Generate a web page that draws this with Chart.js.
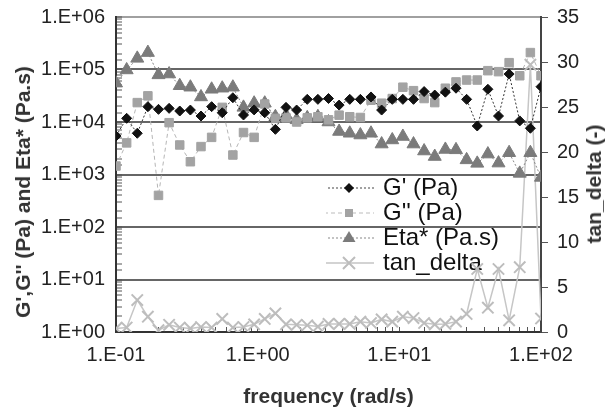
<!DOCTYPE html>
<html><head><meta charset="utf-8">
<script src="https://cdn.jsdelivr.net/npm/chart.js@4.4.1/dist/chart.umd.min.js"></script>
<style>
html,body{margin:0;padding:0;background:#fff;}
#wrap{position:relative;width:606px;height:411px;overflow:hidden;background:#fff;}
.vt{position:absolute;transform:translate(-50%,-50%) rotate(-90deg);font:bold 21px "Liberation Sans",Arial,sans-serif;color:#333;white-space:nowrap;}
</style></head><body>
<div id="wrap"><canvas id="c" width="606" height="411"></canvas>
<div class="vt" id="ltitle" style="left:23px;top:192px;"></div>
<div class="vt" id="rtitle" style="left:594px;top:184px;"></div>
</div>
<script>
const frequency = [0.1, 0.1189, 0.1413, 0.1679, 0.1995, 0.2371, 0.2818, 0.335, 0.3981, 0.4732, 0.5623, 0.6683, 0.7943, 0.9441, 1.122, 1.334, 1.585, 1.884, 2.239, 2.661, 3.162, 3.758, 4.467, 5.309, 6.31, 7.499, 8.913, 10.59, 12.59, 14.96, 17.78, 21.13, 25.12, 29.85, 35.48, 42.17, 50.12, 59.57, 70.79, 84.14, 100];
const gPrime = [5400, 11750, 6100, 19600, 17400, 18200, 16200, 16900, 13000, 19600, 15000, 29000, 13600, 17000, 15000, 7250, 19000, 16900, 27000, 27000, 28000, 21000, 27000, 27000, 30000, 16900, 27000, 27000, 27000, 38000, 32600, 37000, 44000, 27000, 8400, 42000, 13000, 82000, 10500, 7600, 47000];
const gDoublePrime = [1450, 4000, 23400, 31500, 400, 9700, 3650, 1750, 3400, 5100, 19000, 2350, 6300, 5100, 22000, 11700, 12000, 10000, 12000, 12600, 11000, 13500, 12600, 12200, 26000, 22800, 28000, 46000, 39500, 28000, 23400, 44000, 58000, 63000, 63000, 95000, 91000, 135000, 76000, 210000, 76000];
const etaStar = [55000, 98000, 163000, 210000, 79000, 82000, 49000, 46000, 30000, 42000, 44000, 46000, 19000, 22800, 22800, 12600, 13500, 11000, 12000, 12600, 10000, 6600, 6100, 5650, 6100, 3800, 4550, 5300, 3800, 2800, 2200, 3000, 2950, 1900, 1630, 2450, 1650, 2600, 1050, 2600, 880];
const tanDelta = [0.4, 0.5, 3.55, 1.7, 0.2, 0.8, 0.5, 0.4, 0.55, 0.5, 1.45, 0.5, 0.55, 0.85, 1.45, 2.07, 0.85, 0.8, 0.75, 0.6, 0.9, 0.9, 0.9, 1.15, 1.0, 1.4, 1.15, 1.7, 1.55, 1.0, 0.85, 0.9, 1.15, 2.0, 7.0, 2.7, 7.0, 1.3, 7.2, 29.7, 1.5];

const seriesNames = ["G' (Pa)", "G'' (Pa)", "Eta* (Pa.s)", "tan_delta"];
const xTickValues = [0.1, 1, 10, 100];
const xTickLabels = ['1.E-01', '1.E+00', '1.E+01', '1.E+02'];
const yTickValues = [1, 10, 100, 1000, 10000, 100000, 1000000];
const yTickLabels = ['1.E+00', '1.E+01', '1.E+02', '1.E+03', '1.E+04', '1.E+05', '1.E+06'];
const xTitle = 'frequency (rad/s)';
const yTitle = "G',G'' (Pa) and Eta* (Pa.s)";
const y2Title = 'tan_delta (-)';

document.getElementById('ltitle').textContent = yTitle;
document.getElementById('rtitle').textContent = y2Title;

const FONT = '"Liberation Sans", Arial, sans-serif';

function isDecade(v) { const l = Math.log10(v); return Math.abs(l - Math.round(l)) < 1e-6; }
function lookupLabel(v, vals, labs) {
  for (let i = 0; i < vals.length; i++) {
    if (Math.abs(Math.log10(v) - Math.log10(vals[i])) < 1e-6) return labs[i];
  }
  return '';
}
function pts(ys) { return frequency.map((f, i) => ({x: f, y: ys[i]})); }
function noPad(s) { s.paddingTop = 0; s.paddingBottom = 0; s.paddingLeft = 0; s.paddingRight = 0; }

function makeSample(kind) {
  const c = document.createElement('canvas');
  c.width = 50; c.height = 20;
  const g = c.getContext('2d');
  const cx = 25, cy = 10;
  g.lineWidth = 1;
  if (kind === 0) { g.strokeStyle = '#444'; g.setLineDash([2, 2]); }
  if (kind === 1) { g.strokeStyle = '#bbb'; g.setLineDash([4, 3]); }
  if (kind === 2) { g.strokeStyle = '#888'; g.setLineDash([2, 2]); }
  if (kind === 3) { g.strokeStyle = '#c4c4c4'; g.lineWidth = 1.5; }
  g.beginPath(); g.moveTo(0, cy); g.lineTo(50, cy); g.stroke();
  g.setLineDash([]);
  g.beginPath();
  if (kind === 0) {
    g.fillStyle = '#111';
    g.moveTo(cx, cy - 5); g.lineTo(cx + 5, cy); g.lineTo(cx, cy + 5); g.lineTo(cx - 5, cy); g.closePath(); g.fill();
  } else if (kind === 1) {
    g.fillStyle = '#a3a3a3'; g.fillRect(cx - 4, cy - 4, 8, 8);
  } else if (kind === 2) {
    g.fillStyle = '#7b7b7b';
    g.moveTo(cx, cy - 7); g.lineTo(cx + 6.5, cy + 4); g.lineTo(cx - 6.5, cy + 4); g.closePath(); g.fill();
  } else {
    g.strokeStyle = '#bdbdbd'; g.lineWidth = 2;
    g.moveTo(cx - 6, cy - 6); g.lineTo(cx + 6, cy + 6); g.moveTo(cx + 6, cy - 6); g.lineTo(cx - 6, cy + 6); g.stroke();
  }
  return c;
}
const samples = [0, 1, 2, 3].map(makeSample);

const legendPlace = {
  id: 'legendPlace',
  afterLayout(chart) {
    const l = chart.legend;
    if (!l) return;
    const w = l.width, h = l.height;
    l.left = 326; l.top = 175; l.right = l.left + w; l.bottom = l.top + h;
  }
};

new Chart(document.getElementById('c'), {
  type: 'line',
  data: {
    datasets: [
      { label: seriesNames[0], data: pts(gPrime), yAxisID: 'y',
        borderColor: '#333', borderWidth: 1, borderDash: [2, 2],
        pointStyle: 'rectRot', pointRadius: 5, pointBackgroundColor: '#111', pointBorderColor: '#111', pointBorderWidth: 1 },
      { label: seriesNames[1], data: pts(gDoublePrime), yAxisID: 'y',
        borderColor: '#b5b5b5', borderWidth: 1, borderDash: [4, 3],
        pointStyle: 'rect', pointRadius: 6, pointBackgroundColor: '#a3a3a3', pointBorderColor: '#a3a3a3', pointBorderWidth: 1 },
      { label: seriesNames[2], data: pts(etaStar), yAxisID: 'y',
        borderColor: '#888', borderWidth: 1, borderDash: [2, 2],
        pointStyle: 'triangle', pointRadius: 7.5, pointBackgroundColor: '#7b7b7b', pointBorderColor: '#7b7b7b', pointBorderWidth: 1 },
      { label: seriesNames[3], data: pts(tanDelta), yAxisID: 'y2',
        borderColor: '#c6c6c6', borderWidth: 1.5,
        pointStyle: 'crossRot', pointRadius: 8, pointBorderColor: '#bdbdbd', pointBackgroundColor: '#bdbdbd', pointBorderWidth: 2 }
    ]
  },
  options: {
    responsive: false,
    animation: false,
    devicePixelRatio: 1,
    layout: { padding: { left: 0, right: 0, top: 17, bottom: 0 } },
    plugins: {
      tooltip: { enabled: false },
      legend: {
        position: 'chartArea', align: 'start',
        labels: {
          usePointStyle: true, pointStyleWidth: 44, boxHeight: 20, padding: 1,
          color: '#111', font: { family: FONT, size: 24 },
          generateLabels(chart) {
            const items = Chart.defaults.plugins.legend.labels.generateLabels(chart);
            items.forEach((it, i) => { it.pointStyle = samples[i]; it.rotation = 0; });
            return items;
          }
        }
      }
    },
    scales: {
      x: {
        type: 'logarithmic', position: 'bottom', min: 0.1, max: 100,
        afterFit(s) { s.height = 79; noPad(s); },
        grid: { drawOnChartArea: false, drawTicks: true, tickLength: -5, tickColor: '#555', tickWidth: 1 },
        border: { color: '#333', width: 2 },
        ticks: { autoSkip: false, align: 'center', maxRotation: 0, minRotation: 0, padding: 16, color: '#222',
          font: { family: FONT, size: 20 },
          callback(v) { return lookupLabel(v, xTickValues, xTickLabels); } },
        title: { display: true, text: xTitle, color: '#333', font: { family: FONT, size: 21, weight: 'bold' }, padding: { top: 0, bottom: 1 } }
      },
      y: {
        type: 'logarithmic', position: 'left', min: 1, max: 1000000,
        afterFit(s) { s.width = 116; noPad(s); },
        grid: {
          color(ctx) { const v = ctx.tick ? ctx.tick.value : 1; if (!isDecade(v)) return 'rgba(0,0,0,0)'; return v >= 1000000 ? '#a0a0a0' : '#666'; },
          lineWidth: 2, drawTicks: true, tickLength: -6, tickColor: '#555', tickWidth: 1
        },
        border: { color: '#333', width: 2 },
        ticks: { autoSkip: false, padding: 17, color: '#222', font: { family: FONT, size: 20 },
          callback(v) { return lookupLabel(v, yTickValues, yTickLabels); } },
        title: { display: false }
      },
      y2: {
        type: 'linear', position: 'right', min: 0, max: 35,
        afterFit(s) { s.width = 65; noPad(s); },
        grid: { drawOnChartArea: false, drawTicks: true, tickLength: 7, tickColor: '#555', tickWidth: 1 },
        border: { color: '#444', width: 2 },
        ticks: { stepSize: 5, padding: 9, color: '#222', font: { family: FONT, size: 20 } },
        title: { display: false }
      }
    }
  },
  plugins: [legendPlace]
});
</script>
</body></html>
